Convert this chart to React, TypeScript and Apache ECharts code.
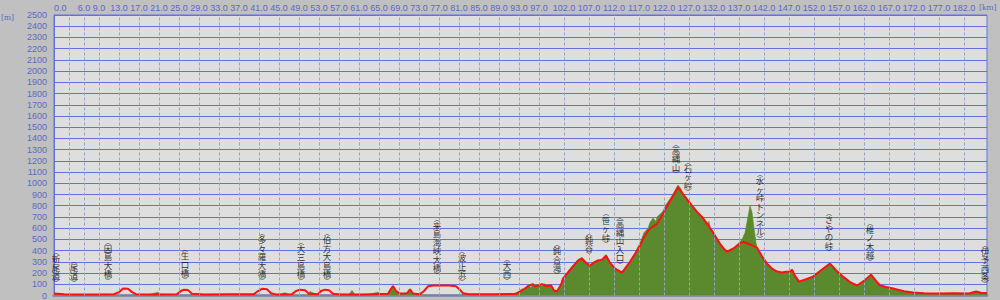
import React, { useEffect, useRef } from "react";
import * as echarts from "echarts";

// Route (red line): distance [km] and elevation [m]
const routeKm = [0, 2, 5, 8, 12, 13, 13.8, 14.8, 15.6, 16.4, 20, 24.6, 25.4, 26, 26.8, 27.6, 30, 35, 40, 40.8, 41.6, 42.6, 43.4, 44.4, 47.6, 48.4, 49.2, 50.2, 51, 52.8, 53.4, 54.2, 55, 55.8, 57, 62, 66.8, 67.4, 67.8, 68.4, 69.2, 70.6, 71.2, 71.8, 73.2, 74, 74.8, 76, 79, 80.4, 81.2, 81.8, 83, 88, 92.4, 93.6, 94.8, 95.6, 96.2, 97, 97.6, 98.6, 99.4, 100, 100.6, 101.4, 101.8, 103.6, 104.8, 105.6, 106.4, 107.2, 108, 108.8, 109.6, 110.4, 111.2, 112.2, 113.6, 115.2, 116.2, 117.2, 118, 118.8, 119.6, 120.6, 121.8, 122.4, 123.2, 124, 124.8, 125.8, 126.8, 127.8, 128.6, 129.6, 130.6, 131.6, 132.4, 133.2, 134, 134.6, 135.8, 136.8, 137.8, 139.2, 140.6, 141.6, 142.6, 143.6, 144.6, 145.6, 146.4, 147.2, 147.6, 148.2, 149, 150.4, 151.8, 153.4, 155.2, 156.4, 157.8, 159.2, 160.6, 162, 163.4, 164.4, 165.2, 166.4, 167.8, 170, 171.8, 174, 177, 180, 183, 184.4, 185.4, 186.6];
const routeElev = [18, 12, 10, 10, 12, 30, 62, 60, 30, 12, 10, 12, 40, 52, 48, 15, 10, 12, 12, 40, 60, 55, 20, 10, 12, 40, 52, 46, 15, 12, 40, 52, 46, 15, 10, 10, 15, 60, 85, 40, 18, 20, 55, 18, 12, 40, 82, 90, 90, 82, 50, 20, 12, 12, 15, 45, 82, 100, 82, 92, 100, 82, 92, 45, 38, 95, 151, 250, 310, 328, 290, 266, 295, 310, 320, 355, 290, 239, 204, 301, 370, 443, 520, 576, 610, 638, 727, 780, 842, 900, 966, 904, 845, 789, 745, 700, 640, 576, 515, 461, 415, 390, 417, 450, 479, 455, 426, 350, 284, 240, 213, 205, 212, 213, 230, 175, 124, 145, 168, 225, 284, 225, 168, 120, 89, 130, 186, 130, 89, 75, 62, 38, 27, 20, 18, 20, 18, 35, 25, 20];

// Ground (green area): distance [km] and elevation [m]
const groundKm = [0, 1, 2, 3, 5, 8, 10, 12, 12.8, 16, 17, 19, 20.8, 21.2, 23, 24.6, 25, 27.4, 28, 32, 36, 39.6, 40, 44, 45, 46.2, 47, 47.6, 50.8, 51.2, 52, 52.8, 55.8, 56.4, 59, 59.6, 60.2, 63, 64.8, 65.4, 66.8, 67.4, 67.8, 68.4, 69.2, 70.6, 71.2, 71.8, 73, 81.4, 82, 85, 88, 90, 92, 93, 93.6, 94, 94.8, 95.4, 95.8, 96.4, 97, 97.6, 98, 98.6, 99.2, 100, 100.6, 101.4, 101.8, 103.6, 104.8, 105.6, 106.4, 107.2, 108, 108.8, 109.4, 110.4, 111.2, 112.2, 113.6, 115.2, 116.2, 117.2, 118, 118.8, 119.2, 119.8, 120.4, 120.6, 121.8, 122.4, 123.2, 124, 124.8, 125.4, 125.8, 126.8, 127.8, 128.6, 129.6, 130.6, 131, 131.2, 131.6, 132.4, 133.2, 134, 134.6, 135.8, 137, 137.6, 138.2, 138.8, 139.2, 139.6, 140, 140.4, 140.6, 141.6, 142.6, 143.6, 144.6, 145.6, 146.4, 147.2, 147.6, 148.2, 149, 150.4, 151.8, 153.4, 155.2, 156.4, 157.8, 159.2, 160.6, 162, 163.4, 164.4, 165.2, 166.4, 167.8, 170, 171.8, 175, 178, 180, 182, 183.6, 184.4, 185.4, 186.6];
const groundElev = [20, 15, 8, 5, 5, 8, 12, 10, 0, 0, 10, 8, 30, 12, 10, 8, 0, 0, 10, 8, 10, 8, 0, 0, 10, 25, 12, 0, 0, 35, 20, 0, 0, 15, 10, 45, 10, 10, 30, 12, 20, 60, 85, 40, 15, 20, 55, 15, 0, 0, 12, 12, 10, 15, 18, 35, 60, 50, 95, 70, 110, 85, 100, 80, 105, 90, 95, 45, 40, 100, 155, 255, 320, 340, 300, 275, 300, 320, 310, 365, 300, 245, 205, 305, 380, 470, 560, 600, 650, 690, 660, 700, 750, 810, 860, 920, 985, 950, 910, 850, 790, 740, 705, 640, 660, 600, 585, 530, 470, 420, 395, 420, 470, 500, 560, 700, 800, 740, 600, 470, 430, 350, 285, 240, 215, 205, 215, 210, 235, 180, 125, 145, 170, 225, 290, 225, 165, 120, 85, 130, 190, 130, 90, 75, 55, 35, 22, 18, 15, 18, 15, 20, 35, 22, 20];

// Distance axis: labelled ticks and dashed grid positions [km]
const kmLabels = [0, 6, 9, 13, 17, 21, 25, 29, 33, 37, 41, 45, 49, 53, 57, 61, 65, 69, 73, 77, 81, 85, 89, 93, 97, 102, 107, 112, 117, 122, 127, 132, 137, 142, 147, 152, 157, 162, 167, 172, 177, 182];
const kmGrid = [3, 6, 9, 13, 17, 21, 25, 29, 33, 37, 41, 45, 49, 53, 57, 61, 65, 69, 73, 77, 81, 85, 89, 93, 97, 102, 107, 112, 117, 122, 127, 132, 137, 142, 147, 152, 157, 162, 167, 172, 177, 182];

// Place names along the route
const placeNames = ["新尾道", "尾道", "因島大橋", "生口橋", "多々羅大橋", "大三島橋", "伯方大島橋", "来島海峡大橋", "波止浜", "大西", "鈍合滝", "鈍谷", "笹ヶ峠", "高縄山入口", "高縄山", "石ヶ峠", "水ヶ峠トンネル", "さやの峠", "椎ノ木越", "伊予西条"];
const placeKm = [0.4, 4, 10.8, 26.2, 41.6, 49.4, 54.6, 76.6, 81.6, 90.6, 100.6, 107, 110.4, 113.2, 124.4, 126.8, 141.2, 155, 163.2, 186.2];
const placeLabelBase = [98, 98, 115, 124, 115, 115, 115, 168, 106, 115, 168, 346, 443, 257, 1064, 904, 488, 372, 284, 89];

const X_MAX = 186.6;

export default function App() {
  const ref = useRef<HTMLDivElement>(null);
  useEffect(() => {
    if (!ref.current) return;
    const chart = echarts.init(ref.current, undefined, { renderer: "svg" });
    const blue = "#6272dc";
    const labelBlue = "#5b69c4";
    const route = routeKm.map((k, i) => [k, routeElev[i]]);
    const ground = groundKm.map((k, i) => [k, groundElev[i]]);
    const places = placeNames.map((n, i) => [placeKm[i], placeLabelBase[i], n]);
    chart.setOption({
      animation: false,
      backgroundColor: "#c0c0c0",
      grid: {
        left: 54,
        right: 13,
        top: 15,
        bottom: 3,
        show: true,
        backgroundColor: "#dedede",
        borderColor: blue,
        borderWidth: 1,
      },
      xAxis: [
        {
          type: "value",
          position: "top",
          min: 0,
          max: X_MAX,
          axisLine: { show: true, lineStyle: { color: blue, width: 2 } },
          axisTick: { show: false },
          splitLine: { show: false },
          axisLabel: {
            customValues: kmLabels,
            formatter: (v: number) => v.toFixed(1),
            color: labelBlue,
            fontSize: 9,
            fontFamily: "Liberation Sans",
            margin: 3,
            alignMinLabel: "left",
          },
        },
        {
          type: "value",
          position: "bottom",
          min: 0,
          max: X_MAX,
          axisLine: { show: true, onZero: false, lineStyle: { color: "#8790b0", width: 3 } },
          axisTick: { show: false },
          axisLabel: { show: false },
          splitLine: { show: false },
        },
      ],
      yAxis: {
        type: "value",
        min: 0,
        max: 2500,
        interval: 100,
        axisLine: { show: true, lineStyle: { color: blue, width: 1 } },
        axisTick: { show: false },
        splitLine: { show: true, lineStyle: { color: blue, width: 1.2 } },
        axisLabel: {
          formatter: (v: number) => String(v),
          color: labelBlue,
          fontSize: 9,
          fontFamily: "Liberation Sans",
          margin: 7,
        },
      },
      graphic: [
        { type: "text", left: 1, top: 12, style: { text: "[m]", fill: labelBlue, fontSize: 9, fontFamily: "Liberation Serif" } },
        { type: "text", left: 979, top: 2, style: { text: "[km]", fill: labelBlue, fontSize: 9, fontFamily: "Liberation Serif" } },
      ],
      series: [
        {
          type: "line",
          data: [],
          z: 1,
          silent: true,
          markLine: {
            silent: true,
            symbol: ["none", "none"],
            label: { show: false },
            lineStyle: { color: "#9aa0c4", width: 1, type: [3, 2] },
            data: kmGrid.map((k) => ({ xAxis: k })),
          },
        },
        {
          type: "line",
          data: ground,
          z: 2,
          symbol: "none",
          silent: true,
          lineStyle: { width: 0.6, color: "#5b8a2e" },
          areaStyle: { color: "#5b8a2e", opacity: 1 },
        },
        {
          type: "line",
          data: route,
          z: 3,
          symbol: "none",
          silent: true,
          lineStyle: { width: 2, color: "#ff1010" },
        },
        {
          type: "scatter",
          data: places,
          z: 4,
          symbolSize: 0,
          silent: true,
          label: {
            show: true,
            position: "top",
            distance: 0,
            formatter: (p: any) => {
              const s: string = p.data[2];
              return ["{p|︵}", ...Array.from(s).map((c) => `{c|${c}}`), "{p|︶}"].join("\n");
            },
            rich: {
              c: { fontSize: 8.5, lineHeight: 8.5, color: "#000", fontFamily: "Noto Sans CJK JP", align: "center" },
              p: { fontSize: 6, lineHeight: 5, color: "#000", fontFamily: "Noto Sans CJK JP", align: "center" },
            },
          },
        },
      ],
    });
    return () => chart.dispose();
  }, []);
  return <div ref={ref} style={{ position: "fixed", left: 0, top: 0, width: 1000, height: 300 }} />;
}
